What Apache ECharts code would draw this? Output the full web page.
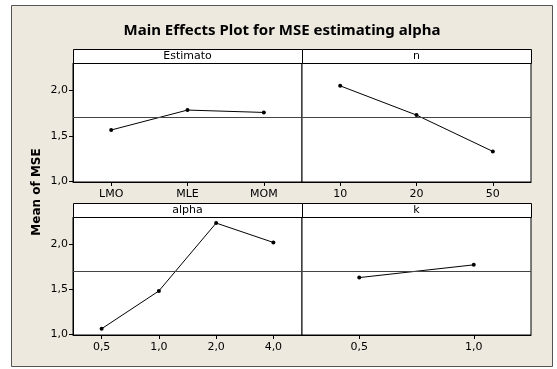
<!DOCTYPE html>
<html>
<head>
<meta charset="utf-8">
<script src="https://cdn.jsdelivr.net/npm/echarts@6/dist/echarts.min.js"></script>
<style>
html,body{margin:0;padding:0;background:#fff;}
#c{width:557px;height:369px;}
</style>
</head>
<body>
<div id="c"></div>
<script>
// ---- data ----
const titleText = 'Main Effects Plot for MSE estimating alpha';
const yAxisTitle = 'Mean of MSE';
const panelNames = ['Estimato', 'n', 'alpha', 'k'];
const estimatoCats = ['LMO', 'MLE', 'MOM'];
const estimatoVals = [1.564, 1.783, 1.757];
const nCats = ['10', '20', '50'];
const nVals = [2.049, 1.728, 1.329];
const alphaCats = ['0,5', '1,0', '2,0', '4,0'];
const alphaVals = [1.062, 1.481, 2.233, 2.018];
const kCats = ['0,5', '1,0'];
const kVals = [1.629, 1.770];
const grandMean = 1.70;
const yTicks = [1.0, 1.5, 2.0];
const yMin = 0.993, yMax = 2.30;

// ---- layout ----
const FONT = 'DejaVu Sans';
const TITLE_FONT = 'Noto Sans';
const panels = [
  {cats: estimatoCats, vals: estimatoVals, left: 73, top: 63, width: 229, height: 119, showY: true},
  {cats: nCats, vals: nVals, left: 302, top: 63, width: 229, height: 119, showY: false},
  {cats: alphaCats, vals: alphaVals, left: 73, top: 217, width: 229, height: 118, showY: true},
  {cats: kCats, vals: kVals, left: 302, top: 217, width: 229, height: 118, showY: false}
];
const stripH = 14;

const chart = echarts.init(document.getElementById('c'), null, {renderer: 'canvas'});

const grids = [], xAxes = [], yAxes = [], series = [], graphics = [];

graphics.push({
  type: 'rect', z: -10, silent: true,
  shape: {x: 11.5, y: 5.5, width: 541, height: 361},
  style: {fill: '#EDE9DF', stroke: '#555', lineWidth: 1}
});
graphics.push({
  type: 'text', x: 282, y: 31, silent: true,
  style: {text: titleText, font: 'bold 15px "' + TITLE_FONT + '"', fill: '#000', textAlign: 'center', textVerticalAlign: 'middle'}
});
graphics.push({
  type: 'text', x: 37, y: 192, rotation: Math.PI / 2, silent: true,
  style: {text: yAxisTitle, font: 'bold 12px ' + FONT, fill: '#000', textAlign: 'center', textVerticalAlign: 'middle'}
});

panels.forEach((p, i) => {
  grids.push({left: p.left, top: p.top, width: p.width, height: p.height, show: true,
    backgroundColor: '#fff', borderColor: '#000', borderWidth: 1, containLabel: false});
  xAxes.push({
    type: 'category', gridIndex: i, data: p.cats, boundaryGap: true,
    axisLine: {show: true, lineStyle: {color: '#000', width: 1}},
    axisTick: {show: true, alignWithLabel: true, length: 4, inside: false, lineStyle: {color: '#000'}},
    axisLabel: {show: true, color: '#000', fontFamily: FONT, fontSize: 11, margin: 7},
    splitLine: {show: false}
  });
  yAxes.push({
    type: 'value', gridIndex: i, min: yMin, max: yMax, show: p.showY,
    axisLine: {show: true, lineStyle: {color: '#000', width: 1}},
    axisTick: {show: true, length: 4, customValues: yTicks, lineStyle: {color: '#000'}},
    axisLabel: {show: true, customValues: yTicks, color: '#000', fontFamily: FONT, fontSize: 11, margin: 5,
      formatter: v => v.toFixed(1).replace('.', ',')},
    splitLine: {show: false}
  });
  series.push({
    type: 'line', xAxisIndex: i, yAxisIndex: i, data: p.vals,
    symbol: 'circle', symbolSize: 4, showSymbol: true,
    itemStyle: {color: '#000'}, lineStyle: {color: '#000', width: 1},
    markLine: {silent: true, symbol: 'none', label: {show: false},
      lineStyle: {color: '#444', width: 1, type: 'solid'},
      data: [{yAxis: grandMean}]}
  });
  graphics.push({
    type: 'rect', silent: true, z: 10,
    shape: {x: p.left + 0.5, y: p.top - stripH + 0.5, width: p.width, height: stripH},
    style: {fill: '#fff', stroke: '#000', lineWidth: 1}
  });
  graphics.push({
    type: 'text', silent: true, z: 11, x: p.left + p.width / 2, y: p.top - stripH / 2 + 0.5,
    style: {text: panelNames[i], font: '11px ' + FONT, fill: '#000', textAlign: 'center', textVerticalAlign: 'middle'}
  });
});

chart.setOption({
  animation: false,
  backgroundColor: '#fff',
  grid: grids, xAxis: xAxes, yAxis: yAxes, series: series,
  graphic: graphics
});
</script>
</body>
</html>
